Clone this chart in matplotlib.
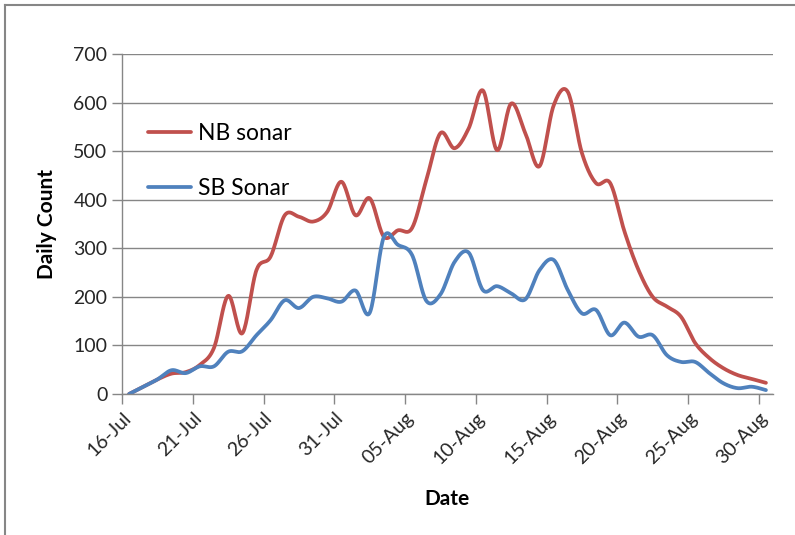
import numpy as np
import pandas as pd
import matplotlib
matplotlib.use('Agg')
from matplotlib import pyplot as plt
from matplotlib.lines import Line2D

# daily counts, 16-Jul .. 30-Aug
dates = pd.date_range('2013-07-16', '2013-08-30', freq='D')
nb_sonar = [0, 15, 30, 42, 45, 60, 95, 202, 125, 255,
            283, 368, 365, 355, 375, 437, 368, 403, 324, 337,
            342, 440, 537, 506, 547, 625, 502, 598, 537, 469,
            594, 622, 496, 434, 434, 335, 255, 200, 180, 159,
            105, 74, 53, 39, 31, 23]
sb_sonar = [0, 15, 30, 49, 43, 57, 57, 87, 88, 121,
            152, 193, 177, 200, 197, 190, 213, 167, 323, 307,
            286, 192, 205, 272, 291, 214, 222, 207, 195, 255,
            276, 214, 166, 173, 121, 147, 118, 121, 80, 66,
            66, 43, 22, 12, 15, 8]
tick_every = 5

red = '#C0504D'
blue = '#4F81BD'
grey = '#868686'


def smooth(x, y, n=20):
    # catmull-rom, roughly what excel does for "smoothed line"
    x = np.asarray(x, float)
    y = np.asarray(y, float)
    px = np.concatenate([[x[0]], x, [x[-1]]])
    py = np.concatenate([[y[0]], y, [y[-1]]])
    xs, ys = [], []
    t = np.linspace(0, 1, n, endpoint=False)
    for k in range(1, len(px) - 2):
        for p, out in ((px, xs), (py, ys)):
            p0, p1, p2, p3 = p[k - 1], p[k], p[k + 1], p[k + 2]
            out.extend(0.5 * ((2 * p1) + (-p0 + p2) * t
                              + (2 * p0 - 5 * p1 + 4 * p2 - p3) * t ** 2
                              + (-p0 + 3 * p1 - 3 * p2 + p3) * t ** 3))
    xs.append(x[-1])
    ys.append(y[-1])
    return np.array(xs), np.array(ys)


plt.rcParams['font.family'] = ['Lato', 'DejaVu Sans']

fig = plt.figure(figsize=(7.95, 5.35), dpi=100)
ax = fig.add_axes([122 / 795, 1 - 394 / 535, 651 / 795, 340 / 535])

idx = np.arange(len(dates))
sx, sy = smooth(idx, nb_sonar)
ax.plot(sx, sy, color=red, lw=2.7, solid_capstyle='round', label='NB sonar')
sx, sy = smooth(idx, sb_sonar)
ax.plot(sx, sy, color=blue, lw=2.7, solid_capstyle='round', label='SB Sonar')

ax.set_xlim(-0.5, len(dates) - 0.5)
ax.set_ylim(0, 700)
ax.set_yticks(range(0, 701, 100))
ticks = np.arange(0, len(dates), tick_every)
ax.set_xticks(ticks - 0.5)
ax.set_xticklabels([d.strftime('%d-%b') for d in dates[ticks]],
                   rotation=45, ha='right', va='top', rotation_mode='anchor')

ax.grid(axis='y', color=grey, lw=1)
ax.set_axisbelow(True)
for s in ['top', 'right']:
    ax.spines[s].set_visible(False)
for s in ['left', 'bottom']:
    ax.spines[s].set_color(grey)
    ax.spines[s].set_linewidth(1)
ax.tick_params(axis='both', colors=grey, length=7, width=1, labelsize=14,
               labelcolor='#262626')
ax.tick_params(axis='x', pad=4)

ax.set_xlabel('Date', fontsize=15, fontweight='bold', labelpad=16)
ax.set_ylabel('Daily Count', fontsize=15, fontweight='bold', labelpad=12)

ax.legend(loc='upper left', bbox_to_anchor=(0.008, 0.858), frameon=False,
          fontsize=16.5, handlelength=1.9, handletextpad=0.3, labelspacing=1.5)

# chart area border (only top and left show in the crop)
fig.add_artist(Line2D([5 / 795, 5 / 795], [0, 1 - 5 / 535], color=grey, lw=1.5))
fig.add_artist(Line2D([5 / 795, 1], [1 - 5 / 535, 1 - 5 / 535], color=grey, lw=1.5))

fig.savefig('out.png', dpi=100)
